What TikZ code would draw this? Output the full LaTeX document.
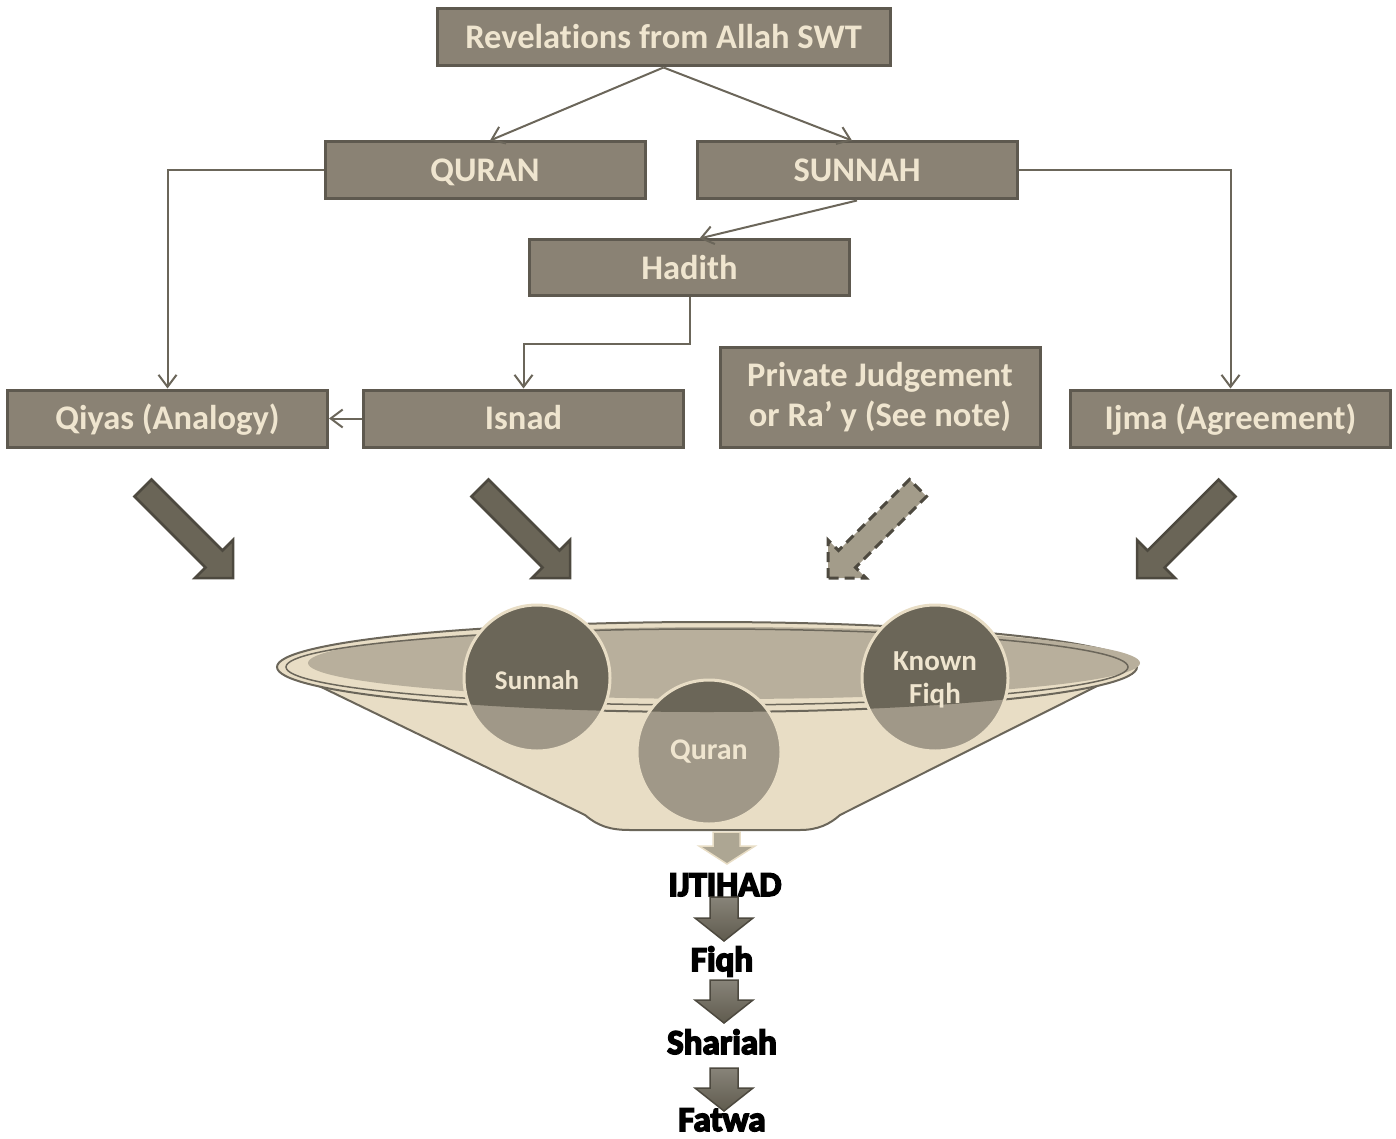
\documentclass[tikz,border=0pt]{standalone}
\usepackage{fontspec}
\setmainfont{Carlito}[Ligatures=NoCommon]
\usetikzlibrary{arrows.meta}
\definecolor{boxfill}{HTML}{8A8274}
\definecolor{boxline}{HTML}{5E594F}
\definecolor{txtcream}{HTML}{EFE5CF}
\definecolor{linec}{HTML}{6B665A}
\definecolor{arrdark}{HTML}{6A6557}
\definecolor{arrline}{HTML}{4D493F}
\definecolor{arrlight}{HTML}{A39C8A}
\definecolor{funcream}{HTML}{E8DDC5}
\definecolor{rimgrey}{HTML}{B8AF9C}
\definecolor{circlight}{HTML}{A09888}
\definecolor{circdark}{HTML}{6B6658}
\newcommand{\heavytext}[1]{\special{pdf:literal direct 2 Tr 1.6 w 0 G}#1\special{pdf:literal direct 0 Tr}}
\begin{document}
\begin{tikzpicture}[x=1pt,y=-1pt,
  box/.style={draw=boxline,line width=3pt,fill=boxfill,text=txtcream,
    font=\bfseries\fontsize{34.5}{40}\selectfont,inner sep=0pt,
    minimum width=320pt,minimum height=57pt,align=center},
  onebox/.style={box,text height=27.6pt,text depth=5.5pt},
  conn/.style={draw=linec,line width=2pt,-{Straight Barb[length=12pt,width=18pt,line width=2pt]}},
  bigarrow/.style={fill=arrdark,draw=arrline,line width=2.5pt,line join=miter},
  dasharrow/.style={fill=arrlight,draw=arrline,line width=3pt,dashed,dash pattern=on 10pt off 6pt},
  downarrow/.style={top color=arrdark!80!white,bottom color=arrdark!90!black,draw=arrline,line width=1.5pt},
  circtext/.style={text=txtcream,font=\bfseries\fontsize{27}{33}\selectfont,align=center,inner sep=0pt},
  result/.style={text=black,font=\bfseries\fontsize{35}{38}\selectfont,inner sep=0pt,anchor=base}]
\useasboundingbox (0,0) rectangle (1396,1139);

% boxes
\node[onebox,minimum width=453pt] (rev) at (663.5,37.5) {Revelations from Allah SWT};
\node[onebox] (quran) at (485,170.5) {QURAN};
\node[onebox] (sunnah) at (857,170.5) {SUNNAH};
\node[onebox,minimum height=56pt] (hadith) at (689.5,268) {Hadith};
\node[onebox] (qiyas) at (167.5,418.5) {Qiyas (Analogy)};
\node[onebox] (isnad) at (523.5,418.5) {Isnad};
\node[box,minimum height=100pt] (priv) at (880,397.5) {Private Judgement\\or Ra’ y (See note)};
\node[onebox] (ijma) at (1230.5,418.5) {Ijma (Agreement)};

% connectors
\draw[conn] (rev.south) -- ([xshift=5pt]quran.north);
\draw[conn] (rev.south) -- ([xshift=-5pt]sunnah.north);
\draw[conn] (sunnah.south) -- ([xshift=10pt]hadith.north);
\draw[conn] (quran.west) -| (qiyas.north);
\draw[conn] (sunnah.east) -| (ijma.north);
\draw[conn] (hadith.south) -- ++(0,46) -| (isnad.north);
\draw[conn] (isnad.west) -- (qiyas.east);

% big diagonal arrows
\draw[bigarrow,shift={(233,578)}] (0,0) -- (0,-38) -- (-10.5,-27.5) -- (-81.5,-98.5) -- (-98.5,-81.5) -- (-27.5,-10.5) -- (-38,0) -- cycle;
\draw[bigarrow,shift={(570,578)}] (0,0) -- (0,-38) -- (-10.5,-27.5) -- (-81.5,-98.5) -- (-98.5,-81.5) -- (-27.5,-10.5) -- (-38,0) -- cycle;
\draw[dasharrow,shift={(828,578)}] (0,0) -- (0,-38) -- (10.5,-27.5) -- (81.5,-98.5) -- (98.5,-81.5) -- (27.5,-10.5) -- (38,0) -- cycle;
\draw[bigarrow,shift={(1137,578)}] (0,0) -- (0,-38) -- (10.5,-27.5) -- (81.5,-98.5) -- (98.5,-81.5) -- (27.5,-10.5) -- (38,0) -- cycle;

% funnel
\draw[fill=funcream,draw=linec,line width=2pt] (282,668) -- (585,815) .. controls (598,826) and (610,830) .. (630,830) -- (800,830) .. controls (818,830) and (830,824) .. (840,815) -- (1133,668) -- cycle;
\draw[fill=funcream,draw=linec,line width=2pt] (707,667) ellipse [x radius=430,y radius=45];
\fill[rimgrey] (724,663) ellipse [x radius=416,y radius=36];
\draw[linec,line width=1.5pt] (707,667) ellipse [x radius=421,y radius=38];

% circles
\fill[circlight] (537,678) circle [radius=73];
\fill[circlight] (709,752) circle [radius=72];
\fill[circlight] (935,678) circle [radius=73];
\begin{scope}
\clip (0,0) rectangle (1396,667);
\fill[circdark] (537,678) circle [radius=73];
\fill[circdark] (709,752) circle [radius=72];
\fill[circdark] (935,678) circle [radius=73];
\end{scope}
\begin{scope}
\clip (707,667) ellipse [x radius=430,y radius=45];
\fill[circdark] (537,678) circle [radius=73];
\fill[circdark] (709,752) circle [radius=72];
\fill[circdark] (935,678) circle [radius=73];
\end{scope}
\draw[funcream,line width=3pt] (537,678) circle [radius=73];
\draw[funcream,line width=3pt] (709,752) circle [radius=72];
\draw[funcream,line width=3pt] (935,678) circle [radius=73];
\node[circtext] (csunnah) at (537,680) {Sunnah};
\node[circtext,font=\bfseries\fontsize{30}{33}\selectfont] (cquran) at (709,752) {Quran};
\node[circtext,font=\bfseries\fontsize{29}{33}\selectfont] (cfiqh) at (935,680) {Known\\Fiqh};

% output arrow
\draw[fill=arrlight!85!funcream,draw=funcream,line width=1.5pt] (713,832) -- (740,832) -- (740,846) -- (755,846) -- (727,864) -- (699,846) -- (713,846) -- cycle;

% result chain
\node[result] (ijt) at (725,896) {\heavytext{IJTIHAD}};
\node[result] (fiqh) at (722,971) {\heavytext{Fiqh}};
\node[result] (shariah) at (722,1054) {\heavytext{Shariah}};
\node[result] (fatwa) at (722,1131) {\heavytext{Fatwa}};
\draw[downarrow] (710,897) -- (738,897) -- (738,918) -- (753,918) -- (724,941) -- (695,918) -- (710,918) -- cycle;
\draw[downarrow] (710,980) -- (738,980) -- (738,1000) -- (753,1000) -- (724,1023) -- (695,1000) -- (710,1000) -- cycle;
\draw[downarrow] (710,1068) -- (738,1068) -- (738,1088) -- (753,1088) -- (724,1111) -- (695,1088) -- (710,1088) -- cycle;
\end{tikzpicture}
\end{document}
